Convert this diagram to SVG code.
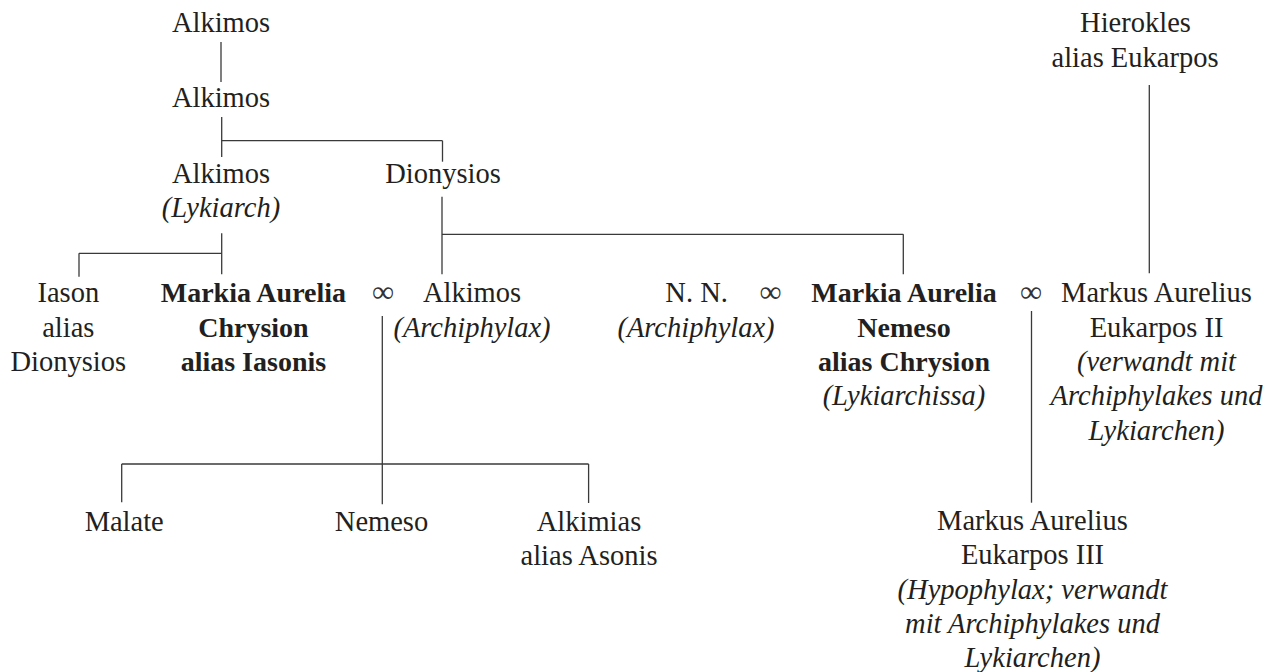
<svg xmlns="http://www.w3.org/2000/svg" width="1279" height="672" viewBox="0 0 1279 672">
<style>
text{font-family:"Liberation Serif","Times New Roman",serif;font-size:28.5px;fill:#231f20;text-anchor:middle}
.b{font-weight:bold;font-size:28px}
.i{font-style:italic}
.inf{font-size:31px;fill:#333333}
#connectors line{stroke:#3a3a3a;stroke-width:1.3;fill:none}
</style>
<rect width="1279" height="672" fill="#ffffff"/>
<g id="connectors">
<line x1="221" y1="42" x2="221" y2="82"/>
<line x1="221.7" y1="117" x2="221.7" y2="157"/>
<line x1="221.7" y1="140.7" x2="442.5" y2="140.7"/>
<line x1="442.5" y1="140.7" x2="442.5" y2="161.7"/>
<line x1="442" y1="196.7" x2="442" y2="274.3"/>
<line x1="442" y1="234.3" x2="903.3" y2="234.3"/>
<line x1="903.3" y1="234.3" x2="903.3" y2="274.3"/>
<line x1="221.7" y1="233.3" x2="221.7" y2="274.3"/>
<line x1="79" y1="253.3" x2="221.7" y2="253.3"/>
<line x1="79" y1="253.3" x2="79" y2="276.7"/>
<line x1="1149.3" y1="85" x2="1149.3" y2="273.3"/>
<line x1="382.3" y1="316" x2="382.3" y2="504.3"/>
<line x1="121.7" y1="464" x2="588.6" y2="464"/>
<line x1="121.7" y1="464" x2="121.7" y2="502.3"/>
<line x1="588.6" y1="464" x2="588.6" y2="503"/>
<line x1="1031.5" y1="311" x2="1031.5" y2="502.7"/>
</g>
<g id="alkimos1"><text x="221" y="32">Alkimos</text></g>
<g id="alkimos2"><text x="221" y="107">Alkimos</text></g>
<g id="alkimos3"><text x="221" y="182.7">Alkimos</text><text class="i" x="221" y="216.5">(Lykiarch)</text></g>
<g id="dionysios"><text x="443" y="182.7">Dionysios</text></g>
<g id="hierokles"><text x="1135.5" y="31.7">Hierokles</text><text x="1135" y="66.5">alias Eukarpos</text></g>
<g id="iason"><text x="68.3" y="302.3">Iason</text><text x="68.3" y="336.6">alias</text><text x="68.3" y="371">Dionysios</text></g>
<g id="markia1"><text class="b" x="253.4" y="302.3">Markia Aurelia</text><text class="b" x="253.4" y="336.6">Chrysion</text><text class="b" x="253.4" y="371">alias Iasonis</text></g>
<g id="marriage1"><text class="inf" x="383" y="302.3">∞</text></g>
<g id="alkimos4"><text x="472" y="302.3">Alkimos</text><text class="i" x="472" y="336.6">(Archiphylax)</text></g>
<g id="nn"><text x="696.6" y="302.3">N. N.</text><text class="i" x="696" y="336.6">(Archiphylax)</text></g>
<g id="marriage2"><text class="inf" x="770.5" y="302.3">∞</text></g>
<g id="markia2"><text class="b" x="904" y="302.3">Markia Aurelia</text><text class="b" x="904" y="336.6">Nemeso</text><text class="b" x="904" y="371">alias Chrysion</text><text class="i" x="904" y="405.3">(Lykiarchissa)</text></g>
<g id="marriage3"><text class="inf" x="1031" y="302.3">∞</text></g>
<g id="eukarpos2"><text x="1156.5" y="302.3">Markus Aurelius</text><text x="1156.5" y="336.6">Eukarpos II</text><text class="i" x="1156.5" y="371">(verwandt mit</text><text class="i" x="1156.5" y="405.3">Archiphylakes und</text><text class="i" x="1156.5" y="439.6">Lykiarchen)</text></g>
<g id="malate"><text x="124.2" y="530.5">Malate</text></g>
<g id="nemeso"><text x="381.5" y="530.5">Nemeso</text></g>
<g id="alkimias"><text x="589" y="530.5">Alkimias</text><text x="589" y="565">alias Asonis</text></g>
<g id="eukarpos3"><text x="1032.5" y="530">Markus Aurelius</text><text x="1032.5" y="564.3">Eukarpos III</text><text class="i" x="1032.5" y="598.6">(Hypophylax; verwandt</text><text class="i" x="1032.5" y="632.9">mit Archiphylakes und</text><text class="i" x="1032.5" y="667.2">Lykiarchen)</text></g>
</svg>
